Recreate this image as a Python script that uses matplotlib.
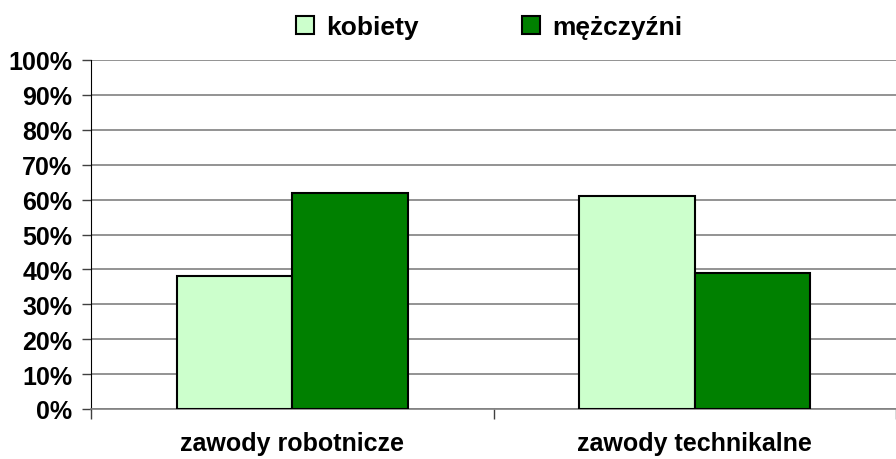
import matplotlib
matplotlib.use("Agg")
import matplotlib.pyplot as plt
import matplotlib.patches as mpatches
import numpy as np

categories = ["zawody robotnicze", "zawody technikalne"]
series_names = ["kobiety", "mężczyźni"]
kobiety = [38, 61]
mezczyzni = [62, 39]
yticks = [0, 10, 20, 30, 40, 50, 60, 70, 80, 90, 100]

light = "#CCFFCC"
dark = "#008000"

plt.rcParams["font.family"] = ["Liberation Sans", "DejaVu Sans"]
plt.rcParams["font.weight"] = "bold"

fig = plt.figure(figsize=(8.96, 4.60), dpi=100)
ax = fig.add_axes([91 / 896, 50 / 460, 805 / 896, 349 / 460])

x = np.arange(len(categories))
w = 0.287
ax.bar(x - w / 2, kobiety, w, color=light, edgecolor="black", linewidth=1.5, zorder=3)
ax.bar(x + w / 2, mezczyzni, w, color=dark, edgecolor="black", linewidth=1.5, zorder=3)

ax.set_ylim(0, 100)
ax.set_xlim(-0.5, -0.5 + 805 / 408)
ax.set_yticks(yticks)
ax.set_yticklabels([f"{v}%" for v in yticks], fontsize=18, fontweight="bold")
ax.yaxis.grid(True, color="#808080", linewidth=1.2, zorder=0)
ax.tick_params(axis="y", length=6.5, width=1, pad=7, color="#404040")

# category boundaries as ticks, labels in the middle
ax.set_xticks([-0.5, 0.5, 1.5])
ax.set_xticklabels([])
ax.set_xticks(x, minor=True)
ax.set_xticklabels(categories, minor=True, fontsize=18, fontweight="bold")
ax.tick_params(axis="x", which="major", length=7, width=1, color="#404040")
ax.tick_params(axis="x", which="minor", length=0, pad=16)

for s in ["top", "right"]:
    ax.spines[s].set_visible(False)
ax.spines["bottom"].set_color("#808080")
ax.spines["bottom"].set_linewidth(1.2)
ax.spines["left"].set_color("black")

handles = [mpatches.Patch(facecolor=light, edgecolor="black", linewidth=1.5),
           mpatches.Patch(facecolor=dark, edgecolor="black", linewidth=1.5)]
fig.legend(handles, series_names, loc="center", bbox_to_anchor=(489 / 896, 1 - 28 / 460),
           ncol=2, frameon=False, prop={"weight": "bold", "size": 19},
           handlelength=0.7, handleheight=0.7, handletextpad=0.45, columnspacing=3.9,
           borderpad=0, borderaxespad=0)

fig.savefig("out.png", dpi=100)
